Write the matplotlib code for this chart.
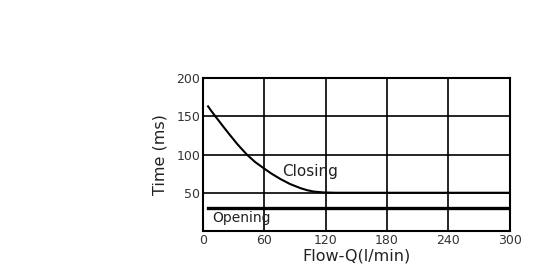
import matplotlib
matplotlib.use("Agg")
import matplotlib.pyplot as plt

closing_flow = [5, 8, 12, 19, 26.5, 34, 43, 51, 60, 67, 75.7, 85, 95.4, 102, 108.5, 118, 130, 300]
closing_time = [163, 157.3, 150.2, 138, 125.3, 113, 99.8, 90.2, 81.5, 75, 68, 61.5, 56, 53.3, 51.5, 50.4, 50, 50]
opening_flow = [5, 300]
opening_time = [30, 30]
x_ticks = [0, 60, 120, 180, 240, 300]
y_ticks = [50, 100, 150, 200]

fig = plt.figure(figsize=(5.5, 2.71), dpi=100)
ax = fig.add_axes([0.369, 0.1476, 0.558, 0.5644])
ax.set_xlim(0, 300)
ax.set_ylim(0, 200)

for x in x_ticks[1:-1]:
    ax.axvline(x, color="black", lw=1.2, zorder=1)
for y in y_ticks[:-1]:
    ax.axhline(y, color="black", lw=1.2, zorder=1)

ax.plot(closing_flow, closing_time, color="black", lw=1.5, zorder=3,
        solid_joinstyle="round")
ax.plot(opening_flow, opening_time, color="black", lw=2.4, zorder=3)

ax.text(77, 78, "Closing", fontsize=11, ha="left", va="center", color="#222222")
ax.text(9.5, 17, "Opening", fontsize=10, ha="left", va="center", color="#222222")

ax.set_xticks(x_ticks)
ax.set_yticks(y_ticks)
ax.tick_params(length=0, labelsize=9, labelcolor="#333333", pad=2)
for s in ax.spines.values():
    s.set_linewidth(1.5)
    s.set_color("black")

ax.set_xlabel("Flow-Q(l/min)", fontsize=11.5, color="#222222", labelpad=1)
ax.set_ylabel("Time (ms)", fontsize=11.5, color="#222222", labelpad=6)

fig.savefig("out.png", dpi=100)
